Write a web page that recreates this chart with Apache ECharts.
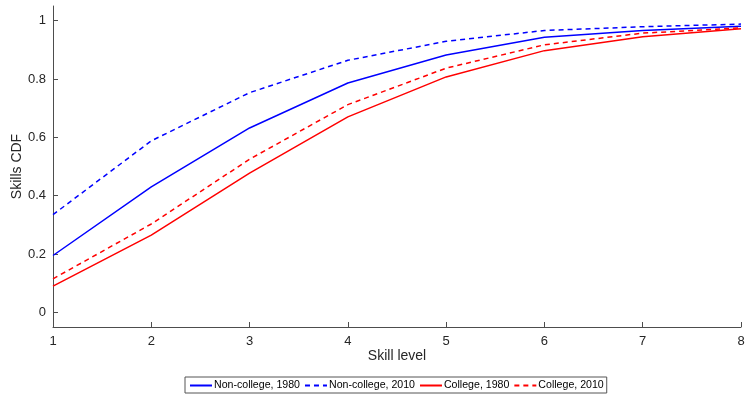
<!DOCTYPE html>
<html>
<head>
<meta charset="utf-8">
<script src="https://cdn.jsdelivr.net/npm/echarts@6/dist/echarts.min.js"></script>
<style>html,body{margin:0;padding:0;background:#fff;}#c{width:747px;height:396px;}</style>
</head>
<body>
<div id="c"></div>
<script>
var skillLevels = [1, 2, 3, 4, 5, 6, 7, 8];
var nonCollege1980 = [0.195, 0.43, 0.632, 0.786, 0.882, 0.943, 0.966, 0.981];
var nonCollege2010 = [0.335, 0.588, 0.753, 0.864, 0.929, 0.966, 0.979, 0.988];
var college1980 = [0.09, 0.265, 0.477, 0.670, 0.807, 0.897, 0.945, 0.972];
var college2010 = [0.115, 0.303, 0.525, 0.712, 0.837, 0.917, 0.957, 0.975];
var yTicks = [0, 0.2, 0.4, 0.6, 0.8, 1];
var seriesNames = ['Non-college, 1980', 'Non-college, 2010', 'College, 1980', 'College, 2010'];

function pairs(arr) { return skillLevels.map(function (x, i) { return [x, arr[i]]; }); }
function mk(name, arr, color, type) {
  return { name: name, type: 'line', data: pairs(arr), symbol: 'none', showSymbol: false,
    lineStyle: { color: color, width: 1.5, type: type }, itemStyle: { color: color }, animation: false };
}
var axisCol = '#4d4d4d';
var txtCol = '#262626';
var ff = 'Liberation Sans, Arial, sans-serif';
var chart = echarts.init(document.getElementById('c'));
chart.setOption({
  backgroundColor: '#fff',
  animation: false,
  grid: { left: 53, right: 6, top: 6, bottom: 69, outerBoundsMode: 'none', containLabel: false },
  legend: {
    data: seriesNames, bottom: 3, left: 185, orient: 'horizontal',
    itemWidth: 22, itemHeight: 10, itemGap: 4,
    borderColor: '#555', borderWidth: 1, borderRadius: 0, padding: [3, 3, 2, 4],
    itemStyle: { opacity: 0 },
    textStyle: { fontFamily: ff, fontSize: 10.6, color: '#000', padding: [0, 0, 0, -3] },
    backgroundColor: '#fff'
  },
  xAxis: {
    type: 'value', min: 1, max: 8, interval: 1,
    name: 'Skill level', nameLocation: 'middle', nameGap: 22, nameMoveOverlap: false,
    nameTextStyle: { fontFamily: ff, fontSize: 14, color: txtCol },
    axisLine: { show: true, onZero: false, lineStyle: { color: axisCol, width: 1 } },
    axisTick: { show: true, inside: true, length: 5, lineStyle: { color: axisCol, width: 1 } },
    axisLabel: { fontFamily: ff, fontSize: 13, color: txtCol, margin: 8 },
    splitLine: { show: false }
  },
  yAxis: {
    type: 'value', min: -0.05, max: 1.05,
    name: 'Skills CDF', nameLocation: 'middle', nameGap: 29, nameRotate: 90, nameMoveOverlap: false,
    nameTextStyle: { fontFamily: ff, fontSize: 14, color: txtCol },
    axisLine: { show: true, onZero: false, lineStyle: { color: axisCol, width: 1 } },
    axisTick: { show: true, inside: true, length: 5, lineStyle: { color: axisCol, width: 1 },
      customValues: yTicks },
    axisLabel: { fontFamily: ff, fontSize: 13, color: txtCol, margin: 7,
      customValues: yTicks, formatter: function (v) { return String(Math.round(v * 10) / 10); } },
    splitLine: { show: false }
  },
  series: [
    mk(seriesNames[0], nonCollege1980, '#0000ff', 'solid'),
    mk(seriesNames[1], nonCollege2010, '#0000ff', [5, 4]),
    mk(seriesNames[2], college1980, '#ff0000', 'solid'),
    mk(seriesNames[3], college2010, '#ff0000', [5, 4])
  ]
});
</script>
</body>
</html>
